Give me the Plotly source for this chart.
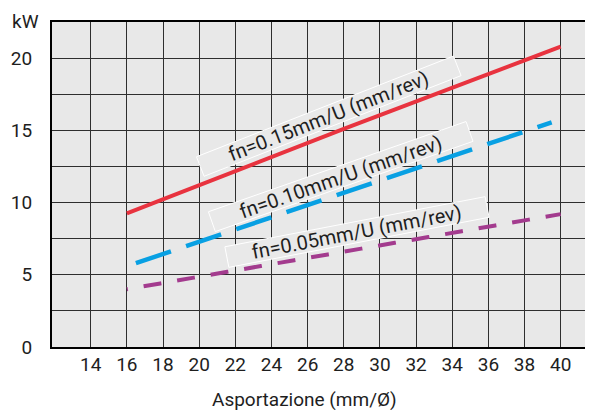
import math
import plotly.graph_objects as go

# ---- data ----
x_fn015 = [16, 28, 40]
kw_fn015 = [9.25, 15.1, 20.8]

x_fn010 = [16.5, 28, 39.5]
kw_fn010 = [5.8, 10.7, 15.55]

x_fn005 = [16, 28, 40]
kw_fn005 = [4.0, 6.6, 9.2]

x_ticks = [14, 16, 18, 20, 22, 24, 26, 28, 30, 32, 34, 36, 38, 40]
y_grid = [0, 2.5, 5, 7.5, 10, 12.5, 15, 17.5, 20]
y_labels = ["0", "", "5", "", "10", "", "15", "", "20"]

label_texts = ["fn=0.15mm/U (mm/rev)", "fn=0.10mm/U (mm/rev)", "fn=0.05mm/U (mm/rev)"]
label_x = [27.17, 27.83, 28.73]
label_y = [15.98, 11.80, 7.96]
label_angle = [21.4, 19.3, 10.9]
label_w = [276, 273, 265]
label_h = [21, 21, 21]

x_title = "Asportazione (mm/Ø)"
y_title = "kW"

# ---- layout geometry (page body adds an 8px offset) ----
OFF = 8
W, H = 593 - OFF, 410 - OFF
ML, MR, MT = 52 - OFF, 0, 22 - OFF
MB = H - (347 - OFF)
XR = [11.859, 41.787]
YR = [0, 22.5]
PW, PH = W - ML - MR, H - MT - MB
sx = PW / (XR[1] - XR[0])
sy = PH / (YR[1] - YR[0])


def paper_x(px):
    return (px - OFF - ML) / PW


def paper_y(py):
    return (H - MB - (py - OFF)) / PH


FONT = "Roboto, 'DejaVu Sans', sans-serif"
TXT = "#1e1e1e"
GRID = "#2e2e2e"

fig = go.Figure()
fig.add_trace(go.Scatter(x=x_fn015, y=kw_fn015, mode="lines",
                         line=dict(color="#e8333f", width=4), showlegend=False))
fig.add_trace(go.Scatter(x=x_fn010, y=kw_fn010, mode="lines",
                         line=dict(color="#08a0e3", width=4.5, dash="37px,16px"), showlegend=False))
fig.add_trace(go.Scatter(x=x_fn005, y=kw_fn005, mode="lines",
                         line=dict(color="#a33b8e", width=4, dash="1px,16px,17px,0px"), showlegend=False))

shapes = []
annotations = []
for t, cx, cy, ang, w, h in zip(label_texts, label_x, label_y, label_angle, label_w, label_h):
    a = math.radians(ang)
    ux, uy = math.cos(a), -math.sin(a)      # along text (pixel space, y down)
    nx, ny = math.sin(a), math.cos(a)       # perpendicular
    pts = []
    for su, sn in [(-1, -1), (1, -1), (1, 1), (-1, 1)]:
        dpx = su * w / 2 * ux + sn * h / 2 * nx
        dpy = su * w / 2 * uy + sn * h / 2 * ny
        pts.append((cx + dpx / sx, cy - dpy / sy))
    path = "M " + " L ".join(f"{px:.4f},{py:.4f}" for px, py in pts) + " Z"
    shapes.append(dict(type="path", path=path, xref="x", yref="y", layer="between",
                       fillcolor="#e9e9e9", line=dict(color="white", width=1)))
    annotations.append(dict(x=cx, y=cy, xref="x", yref="y", text=t, showarrow=False,
                            textangle=-ang, font=dict(family=FONT, size=20, color=TXT),
                            xanchor="center", yanchor="middle"))

annotations.append(dict(x=paper_x(25), y=paper_y(21), xref="paper", yref="paper",
                        text=y_title, showarrow=False,
                        font=dict(family=FONT, size=19, color=TXT), xanchor="center", yanchor="middle"))
annotations.append(dict(x=paper_x(304), y=paper_y(399), xref="paper", yref="paper",
                        text=x_title, showarrow=False, font=dict(family=FONT, size=19, color=TXT),
                        xanchor="center", yanchor="middle"))

fig.update_layout(
    width=W, height=H, autosize=False,
    margin=dict(l=ML, r=MR, t=MT, b=MB, pad=0),
    paper_bgcolor="white", plot_bgcolor="#e8e8e8",
    font=dict(family=FONT, size=19, color=TXT),
    shapes=shapes, annotations=annotations,
    xaxis=dict(range=XR, tickmode="array", tickvals=x_ticks, ticks="", ticklen=0,
               showgrid=True, gridcolor=GRID, gridwidth=1, zeroline=False,
               showline=True, linecolor="black", linewidth=2, mirror=True,
               ticklabelstandoff=-1, tickfont=dict(size=19, color=TXT)),
    yaxis=dict(range=YR, tickmode="array", tickvals=y_grid, ticktext=y_labels, ticks="", ticklen=0,
               showgrid=True, gridcolor=GRID, gridwidth=1, zeroline=False,
               showline=True, linecolor="black", linewidth=2,
               ticklabelstandoff=14, tickfont=dict(size=19, color=TXT)),
)

fig.write_html("out.html")
